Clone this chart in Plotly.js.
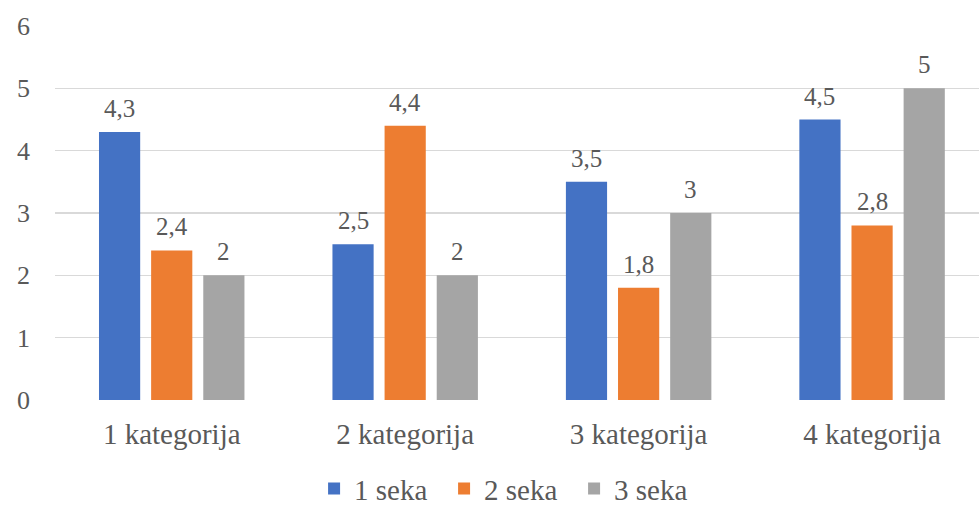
<!DOCTYPE html>
<html>
<head>
<meta charset="utf-8">
<script src="https://cdn.plot.ly/plotly-3.0.1.min.js"></script>
<style>html,body{margin:0;padding:0;background:#fff;}</style>
</head>
<body>
<div id="chart" style="width:979px;height:508px"></div>
<script>
const categories = ["1 kategorija", "2 kategorija", "3 kategorija", "4 kategorija"];
const seriesNames = ["1 seka", "2 seka", "3 seka"];
const seka1 = [4.3, 2.5, 3.5, 4.5];
const seka2 = [2.4, 4.4, 1.8, 2.8];
const seka3 = [2, 2, 3, 5];
const colors = ["#4472C4", "#ED7D31", "#A5A5A5"];

const allSeries = [seka1, seka2, seka3];
const fontFam = "Liberation Serif";
const txtColor = "#595959";

const bargap = 0.33;
const traces = allSeries.map((vals, i) => ({
  type: "bar",
  name: seriesNames[i],
  x: categories,
  y: vals,
  marker: {color: colors[i]},
  hoverinfo: "skip"
}));

const fmt = v => String(v).replace(".", ",");
const slot = (1 - bargap) / allSeries.length;
const annotations = [];
allSeries.forEach((vals, i) => {
  vals.forEach((v, j) => {
    annotations.push({
      x: j + (i - (allSeries.length - 1) / 2) * slot,
      y: v,
      xref: "x", yref: "y",
      text: fmt(v),
      showarrow: false,
      yanchor: "bottom",
      yshift: 8,
      font: {family: fontFam, size: 25, color: txtColor}
    });
  });
});

const layout = {
  width: 979, height: 508,
  margin: {l: 55, r: 0, t: 26, b: 108},
  paper_bgcolor: "#fff", plot_bgcolor: "#fff",
  barmode: "group",
  bargap: bargap,
  bargroupgap: 0.21,
  xaxis: {
    type: "category",
    range: [-0.5, 3.458],
    showgrid: false,
    zeroline: false,
    showline: false,
    ticks: "",
    automargin: false,
    ticklabelstandoff: 14,
    tickfont: {family: fontFam, size: 29, color: txtColor}
  },
  yaxis: {
    range: [0, 6],
    dtick: 1,
    showgrid: true,
    gridcolor: "#D9D9D9",
    gridwidth: 1.5,
    zeroline: false,
    showline: false,
    ticks: "",
    automargin: false,
    ticklabelstandoff: 24,
    tickfont: {family: fontFam, size: 26, color: txtColor}
  },
  showlegend: true,
  legend: {
    orientation: "h",
    x: 0.52, xanchor: "center",
    xref: "container",
    yref: "container",
    y: 0.038, yanchor: "middle",
    font: {family: fontFam, size: 29, color: txtColor},
    entrywidth: 85,
    entrywidthmode: "pixels",
    traceorder: "normal"
  },
  annotations: annotations
};

Plotly.newPlot("chart", traces, layout, {staticPlot: true});
</script>
</body>
</html>
